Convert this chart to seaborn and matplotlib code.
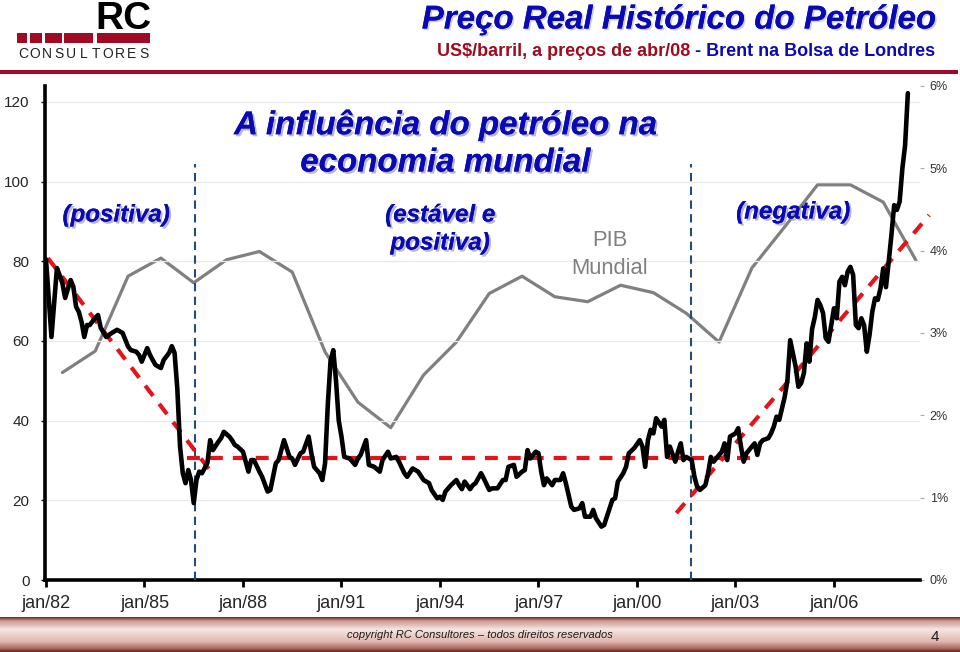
import numpy as np
import pandas as pd
import matplotlib
matplotlib.use("Agg")
import matplotlib.pyplot as plt
import matplotlib.patheffects as pe
from matplotlib.patches import Rectangle
from matplotlib.colors import LinearSegmentedColormap
from matplotlib import font_manager as fm
import seaborn as sns

# ---------------- data ----------------
# Brent real price (US$/barrel, Apr/08 prices); months counted from jan/82
oil_month = [0, 2, 4, 5, 6, 7, 9, 10, 11, 12, 13, 14, 15, 16, 18, 19, 20, 22, 24, 26, 28, 30, 31, 33, 34, 35,
             37, 38, 40, 42, 43, 45, 46, 47, 48, 49, 50, 51, 52, 53, 54, 55, 56, 57, 58, 59, 60, 61, 63, 64,
             65, 67, 68, 69, 70, 72, 74, 75, 76, 78, 79, 81, 82, 84, 85, 87, 89, 90, 91, 93, 94, 96, 97, 98,
             100, 101, 102, 103, 104, 105, 106, 107, 108, 109, 111, 113, 114, 115, 117, 118, 120, 122, 123,
             125, 126, 128, 129, 131, 132, 134, 136, 138, 140, 141, 143, 144, 145, 146, 148, 150, 151, 152,
             153, 155, 156, 157, 159, 160, 162, 163, 165, 167, 168, 169, 171, 172, 174, 175, 176, 177, 179,
             180, 181, 182, 183, 185, 186, 188, 189, 190, 192, 193, 195, 196, 197, 199, 200, 201, 203, 204,
             205, 207, 208, 209, 211, 212, 213, 215, 217, 218, 219, 220, 221, 222, 223, 225, 226, 227, 228,
             230, 231, 232, 233, 234, 236, 237, 238, 239, 241, 242, 243, 244, 246, 247, 248, 249, 250, 252,
             253, 254, 255, 256, 258, 259, 260, 261, 262, 264, 265, 266, 267, 268, 270, 271, 272, 274, 275,
             276, 277, 278, 279, 280, 281, 282, 283, 284, 285, 286, 287, 288, 289, 290, 291, 292, 293, 294,
             295, 296, 297, 298, 299, 300, 301, 302, 303, 304, 305, 306, 307, 308, 309, 310, 311, 312, 313,
             314, 315]
oil_price = [80.5, 61, 78.3, 76.5, 74.5, 70.8, 75.3, 73.6, 68.6, 67.3, 64.8, 61, 64, 64, 65.8, 66.5, 63.3, 61,
             62, 62.8, 62, 58.6, 57.7, 57.3, 56.5, 54.8, 58.2, 56.5, 54, 53.2, 55.2, 57, 58.7, 57, 48, 33.5,
             26.8, 24.3, 27.6, 25.1, 19.3, 25.1, 27.2, 26.8, 28.1, 29.4, 35.1, 32.6, 34.7, 35.6, 37.2, 36,
             35.1, 33.9, 33.5, 32.2, 27.2, 30.1, 30.1, 27.2, 25.9, 22.2, 22.6, 29.3, 30.1, 35.1, 30.9, 30.5,
             28.9, 31.8, 32.2, 36, 31.8, 28.4, 26.8, 25.1, 29.3, 44, 55, 57.7, 50, 40, 36, 30.9, 30.5, 28.9,
             30.5, 31.4, 35.1, 28.9, 28.4, 27.2, 30.1, 32.2, 30.5, 30.9, 29.7, 26.8, 25.9, 28, 27.2, 25.1,
             24.3, 22.5, 20.5, 20.9, 20.1, 22.2, 23.8, 25.1, 23.8, 22.8, 24.7, 22.8, 23.8, 24.3, 26.8, 25.5,
             22.6, 23, 23, 25.1, 25.1, 28.4, 28.9, 25.9, 27.2, 27.6, 32.6, 30.5, 32.2, 31.8, 27.2, 23.8, 25.5,
             23.8, 25.1, 25.1, 26.8, 24.3, 18.4, 17.6, 18, 19.3, 15.9, 15.9, 17.6, 15.5, 13.4, 13.8, 15.9,
             20.1, 20.5, 24.7, 26.8, 28.4, 31.8, 33.1, 35.1, 33.5, 28.4, 35.1, 37.7, 36.8, 40.6, 38.5, 40.2,
             30.9, 33.5, 29.7, 32.2, 34.3, 30.1, 30.9, 30.1, 25.9, 23.4, 22.6, 23.8, 26.8, 30.9, 29.7, 31.4,
             32.2, 34.3, 30.1, 36, 36.8, 38.1, 33.5, 29.7, 31.8, 33.5, 34.3, 31.4, 34.3, 35.1, 35.6, 36.8,
             38.5, 41, 40.2, 46, 50.2, 60.2, 53.5, 48.5, 49.4, 51.9, 59.4, 54.8, 63, 66, 70.3, 69, 67, 60.7,
             59.8, 64, 68.2, 65.7, 74.9, 76.1, 74, 77.4, 78.6, 76.6, 64, 63.2, 65.7, 64, 57.3, 61.5, 67.3,
             70.7, 70.3, 73.2, 78.2, 73.5, 79.9, 86.6, 94.1, 92.9, 95, 103.3, 109.2, 122.2]

# World GDP growth (%), one value per year
gdp_year = list(range(1982, 2009))
gdp_growth = [2.52, 2.78, 3.69, 3.91, 3.61, 3.89, 3.99, 3.74, 2.77, 2.16, 1.85, 2.49, 2.89, 3.48,
              3.69, 3.44, 3.38, 3.58, 3.49, 3.24, 2.89, 3.79, 4.29, 4.80, 4.80, 4.59, 3.88]

tick_years = [1982, 1985, 1988, 1991, 1994, 1997, 2000, 2003, 2006]
tick_labels = ["jan/82", "jan/85", "jan/88", "jan/91", "jan/94", "jan/97", "jan/00", "jan/03", "jan/06"]
left_ticks = [0, 20, 40, 60, 80, 100, 120]
right_ticks = [0, 1, 2, 3, 4, 5, 6]
right_labels = ["0%", "1%", "2%", "3%", "4%", "5%", "6%"]

# trend guides (decimal years, US$)
trend_down_x, trend_down_y = [1982.06, 1987.05], [80.8, 26.9]
trend_flat_x, trend_flat_y = [1986.29, 2003.64], [30.6, 30.6]
trend_up_x, trend_up_y = [2001.20, 2008.90], [16.8, 91.6]
phase_breaks = [1986.53, 2001.66]

# ---------------- style ----------------
sns.set_theme(style="white")
plt.rcParams['font.family'] = ['Liberation Sans', 'DejaVu Sans']


def has_font(name):
    try:
        fm.findfont(fm.FontProperties(family=name), fallback_to_default=False)
        return True
    except Exception:
        return False


narrow_ok = has_font('Liberation Sans Narrow')
NARROW = ['Liberation Sans Narrow', 'Liberation Sans'] if narrow_ok else ['Liberation Sans']

W, H = 960, 652
fig = plt.figure(figsize=(9.6, 6.52), dpi=100)
fig.patch.set_facecolor('white')


def fx(x):
    return x / W


def fy(y):
    return 1 - y / H


BLUE = '#0A0AB4'
DARKRED = '#9E0B1E'

ax = fig.add_axes([fx(45), fy(580), (920 - 45) / W, (580 - 86) / H])
ax2 = ax.twinx()

oil_df = pd.DataFrame({'year': [1982 + m / 12 for m in oil_month], 'price': oil_price})
gdp_df = pd.DataFrame({'year': [y + 0.5 for y in gdp_year], 'growth': gdp_growth})

sns.lineplot(data=gdp_df, x='year', y='growth', ax=ax2, color='#808080', lw=2.3)
sns.lineplot(data=oil_df, x='year', y='price', ax=ax, color='black', lw=3.3, zorder=5,
             solid_joinstyle='round')

red = '#E5141B'
for xs, ys in [(trend_down_x, trend_down_y), (trend_flat_x, trend_flat_y), (trend_up_x, trend_up_y)]:
    ax.plot(xs, ys, color=red, lw=3.0, linestyle=(0, (3.1, 2.4)), zorder=4, clip_on=False)
ax.vlines(phase_breaks, 0, 104.5, colors='#1F4E79', linestyles=(0, (4, 2.6)), lw=1.5, zorder=3)

ax.set_zorder(ax2.get_zorder() + 1)
ax.patch.set_visible(False)

ax.set_xlim(1981.97, 2008.62)
ax.set_ylim(0, 124)
ax2.set_ylim(0, 6)

ax.set_xticks(tick_years)
ax.set_xticklabels(tick_labels, family=NARROW, fontsize=14 if narrow_ok else 13)
ax.set_yticks(left_ticks)
ax.set_yticklabels([str(v) for v in left_ticks], fontsize=11)
ax2.set_yticks(right_ticks)
ax2.set_yticklabels(right_labels, fontsize=9, color='#333333')
ax.set_xlabel('')
ax.set_ylabel('')
ax2.set_ylabel('')

ax.tick_params(axis='x', direction='out', length=5, width=2, color='black', pad=6, bottom=True)
ax.tick_params(axis='y', direction='out', length=3, width=1, color='black', pad=8, left=True)
ax2.tick_params(axis='y', direction='out', length=3, width=0.8, color='#aaaaaa', pad=4, right=True)

ax.yaxis.grid(True, color='#e9e9e9', lw=0.9)
ax.xaxis.grid(False)
ax2.grid(False)
for s in ['top', 'right']:
    ax.spines[s].set_visible(False)
for s in ['top', 'right', 'left', 'bottom']:
    ax2.spines[s].set_visible(False)
ax.spines['left'].set_color('black')
ax.spines['left'].set_linewidth(2.6)
ax.spines['bottom'].set_color('black')
ax.spines['bottom'].set_linewidth(2.6)

# ---------------- annotations ----------------
shadow = [pe.withSimplePatchShadow(offset=(1.5, -1.5), shadow_rgbFace='#9a9ab0', alpha=0.7), pe.Normal()]
bi = dict(fontweight='bold', fontstyle='italic', color=BLUE, path_effects=shadow)

fig.text(fx(445), fy(125), 'A influência do petróleo na', ha='center', va='center', fontsize=23.8, **bi)
fig.text(fx(445), fy(163), 'economia mundial', ha='center', va='center', fontsize=23.8, **bi)
fig.text(fx(116), fy(215), '(positiva)', ha='center', va='center', fontsize=17.4, **bi)
fig.text(fx(440), fy(215), '(estável e', ha='center', va='center', fontsize=17.4, **bi)
fig.text(fx(440), fy(243), 'positiva)', ha='center', va='center', fontsize=17.4, **bi)
fig.text(fx(793), fy(212), '(negativa)', ha='center', va='center', fontsize=17.4, **bi)
fig.text(fx(610), fy(240), 'PIB', ha='center', va='center', fontsize=15.8, color='#808080')
fig.text(fx(610), fy(268), 'Mundial', ha='center', va='center', fontsize=15.8, color='#808080')

# ---------------- header ----------------
fig.text(fx(935), fy(20), 'Preço Real Histórico do Petróleo', ha='right', va='center', fontsize=23.8,
         fontweight='bold', fontstyle='italic', color=BLUE,
         path_effects=[pe.withSimplePatchShadow(offset=(1.2, -1.2), shadow_rgbFace='#b0b0c0', alpha=0.6),
                       pe.Normal()])
sub_fs = 14 if narrow_ok else 13
t_blue = fig.text(fx(935), fy(51), '- Brent na Bolsa de Londres', ha='right', va='center', fontsize=sub_fs,
                  fontweight='bold', color=BLUE, family=NARROW)
fig.canvas.draw()
bb = t_blue.get_window_extent()
fig.text((bb.x0 - 5) / W, fy(51), 'US$/barril, a preços de abr/08', ha='right', va='center', fontsize=sub_fs,
         fontweight='bold', color=DARKRED, family=NARROW)

fig.add_artist(Rectangle((0, fy(74)), fx(958), 4 / H, transform=fig.transFigure, color='#A00A2A', lw=0))

# logo
fig.text(fx(151), fy(29), 'RC', ha='right', va='baseline', fontsize=28, fontweight='bold', color='black')
for x0, x1 in [(17, 27), (30, 42), (45, 62), (64, 93), (97, 150)]:
    fig.add_artist(Rectangle((fx(x0), fy(43)), (x1 - x0) / W, 10 / H, transform=fig.transFigure,
                             color='#A00A22', lw=0))
for i, ch in enumerate('CONSULTORES'):
    fig.text(fx(23 + 12.1 * i), fy(54), ch, ha='center', va='center', fontsize=10, color='#222222')

# ---------------- footer ----------------
fax = fig.add_axes([0, 0, 1, (652 - 617) / H])
stops = [0.0, 0.1, 0.35, 0.7, 0.9, 1.0]
cols = ['#6E2A22', '#CC9890', '#F6E6E2', '#E2B8B0', '#AE6A62', '#5E2822']
cmap = LinearSegmentedColormap.from_list('foot', list(zip(stops, cols)))
grad = np.linspace(0, 1, 64).reshape(-1, 1)
fax.imshow(grad, aspect='auto', cmap=cmap, extent=[0, 1, 0, 1], origin='upper')
fax.set_axis_off()
fig.text(0.5, fy(635), 'copyright RC Consultores – todos direitos reservados', ha='center', va='center',
         fontsize=9 if narrow_ok else 8, fontstyle='italic', color='#1a1a1a', family=NARROW)
fig.text(fx(935), fy(637), '4', ha='center', va='center', fontsize=11, color='#1a1a1a')

fig.savefig('out.png', dpi=100, facecolor='white')
